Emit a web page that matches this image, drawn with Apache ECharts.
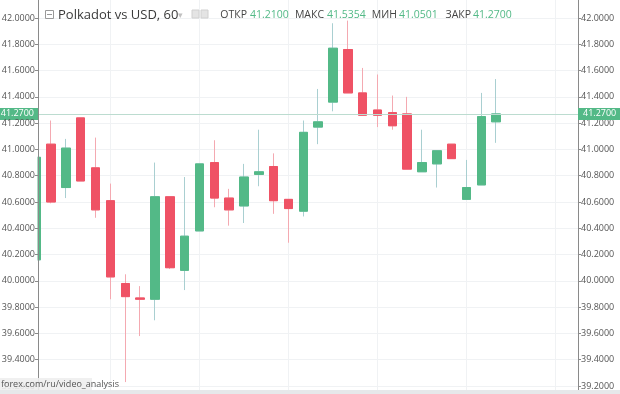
<!DOCTYPE html>
<html>
<head>
<meta charset="utf-8">
<script src="https://cdn.jsdelivr.net/npm/echarts@6/dist/echarts.min.js"></script>
<style>html,body{margin:0;padding:0;background:#fff;}#c{width:620px;height:394px;}</style>
</head>
<body>
<div id="c"></div>
<script>
// ---- data (hourly candles, Polkadot vs USD) ----
const candleIndex = [0,1,2,3,4,5,6,7,8,9,10,11,12,13,14,15,16,17,18,19,20,21,22,23,24,25,26,27,28,29,30,31];
const opens  = [40.16,41.04,40.71,41.24,40.86,40.61,39.98,39.87,39.86,40.64,40.08,40.38,40.90,40.63,40.57,40.81,40.87,40.62,40.53,41.17,41.36,41.76,41.43,41.30,41.28,41.27,40.83,40.89,41.04,40.62,40.73,41.21];
const closes = [40.94,40.60,41.01,40.76,40.54,40.03,39.88,39.86,40.64,40.10,40.34,40.89,40.63,40.54,40.79,40.83,40.61,40.55,41.13,41.21,41.77,41.43,41.26,41.26,41.18,40.85,40.90,40.99,40.93,40.71,41.25,41.27];
const lows   = [40.10,40.59,40.63,40.76,40.48,39.86,39.23,39.58,39.70,40.09,39.93,40.38,40.56,40.42,40.44,40.72,40.51,40.29,40.49,41.04,41.29,41.43,41.26,41.17,41.15,40.85,40.83,40.71,40.93,40.62,40.73,41.0501];
const highs  = [41.00,41.22,41.08,41.24,41.09,40.74,40.05,39.96,40.90,40.64,40.79,40.89,41.07,40.70,40.89,41.15,40.97,40.62,41.22,41.46,41.96,41.98,41.62,41.57,41.41,41.40,41.15,40.99,41.04,40.92,41.43,41.5354];
const vGridAt = [5,11,17,23,29,35];          // vertical grid lines (candle positions)
const lastPrice = 41.27;
const headerLabels = ['ОТКР','МАКС','МИН','ЗАКР'];
const titleText = 'Polkadot vs USD, 60';
const watermark = 'forex.com/ru/video_analysis';

const GREEN = '#53b987', RED = '#ef5265';
const WICK_G = '#a9cfd1', WICK_R = '#f4a9b1';

const wickData = candleIndex.map((x,i)=>[x, opens[i], closes[i], lows[i], highs[i]]);
const bodyData = candleIndex.map((x,i)=>[x, opens[i], closes[i], Math.min(opens[i],closes[i]), Math.max(opens[i],closes[i])]);

const last = candleIndex.length - 1;
const headerVals = [opens[last], highs[last], lows[last], closes[last]].map(v=>v.toFixed(4));

const chart = echarts.init(document.getElementById('c'), null, {renderer:'canvas'});
const FONT = '"Open Sans", sans-serif';
const axisLabel = {color:'#555', fontSize:9, fontFamily:FONT, margin:3, formatter:v=>v.toFixed(4)};

// [label right edge, value left edge]
const headerX = [[247,250],[324,327],[397,399],[471,473]];
const graphic = [
  // white panel left of the price scale (hides the partly scrolled-out first candle)
  {type:'rect', shape:{x:0,y:0,width:37.5,height:394}, style:{fill:'#ffffff'}, z:4},
  {type:'rect', shape:{x:45.5,y:10.5,width:8,height:8}, style:{fill:'none', stroke:'#999', lineWidth:1}, z:100},
  {type:'line', shape:{x1:47,y1:14.5,x2:52,y2:14.5}, style:{stroke:'#999', lineWidth:1}, z:100},
  {type:'text', x:58, y:15, style:{text:titleText, fill:'#3a3a3a', font:'13px '+FONT, verticalAlign:'middle'}, z:100},
  {type:'text', x:178, y:15, style:{text:'▾', fill:'#c0c0c0', font:'9px '+FONT, verticalAlign:'middle'}, z:100},
  {type:'rect', shape:{x:192,y:10,width:7,height:8}, style:{fill:'#e4e4e4', stroke:'#d0d0d0'}, z:100},
  {type:'rect', shape:{x:201,y:10,width:7,height:8}, style:{fill:'#e4e4e4', stroke:'#d0d0d0'}, z:100},
  {type:'rect', shape:{x:0,y:378,width:92,height:12}, style:{fill:'rgba(238,238,238,0.9)'}, z:100},
  {type:'text', x:1, y:384, style:{text:watermark, fill:'#555', font:'9px '+FONT, verticalAlign:'middle'}, z:101},
  {type:'rect', shape:{x:0,y:390,width:620,height:4}, style:{fill:'#e6e8ea'}, z:100}
];
headerLabels.forEach((lab,k)=>{
  graphic.push({type:'text', x:headerX[k][0], y:15, style:{text:lab, fill:'#444', font:'10.5px '+FONT, verticalAlign:'middle', align:'right'}, z:100});
  graphic.push({type:'text', x:headerX[k][1], y:15, style:{text:headerVals[k], fill:GREEN, font:'10.5px '+FONT, verticalAlign:'middle', align:'left'}, z:100});
});

const yAxisCommon = {
  type:'value', min:39.0, max:42.2, interval:0.2, scale:true,
  axisLine:{show:true, lineStyle:{color:'#8a8a8a', width:1}},
  axisTick:{show:true, length:3, lineStyle:{color:'#8a8a8a'}},
  axisLabel: axisLabel
};

chart.setOption({
  animation:false,
  backgroundColor:'#ffffff',
  grid:{left:38, right:42, top:-8.3, bottom:-18.3, containLabel:false, outerBoundsMode:'none'},
  xAxis:{type:'value', min:0.12, max:36.51, show:false, splitLine:{show:false}},
  yAxis:[
    Object.assign({}, yAxisCommon, {position:'left', z:10, splitLine:{show:false}}),
    Object.assign({}, yAxisCommon, {position:'right', z:0, splitLine:{show:true, lineStyle:{color:'#f0f2f4', width:1}}})
  ],
  graphic: graphic,
  series:[
    {
      type:'line', data:[], silent:true, clip:false, z:1,
      markLine:{
        silent:true, symbol:'none', animation:false, z:1,
        data: vGridAt.map(v=>({xAxis:v, lineStyle:{color:'#f0f2f4', width:1, type:'solid'}, label:{show:false}}))
      }
    },
    {
      type:'line', data:[], silent:true, clip:false, z:6,
      markLine:{
        silent:true, symbol:'none', animation:false, z:6,
        data: [
          {yAxis:lastPrice, lineStyle:{color:'#bcdcd0', width:1, type:'solid'},
           label:{show:true, position:'start', distance:0, formatter:()=>lastPrice.toFixed(4), color:'#fff', backgroundColor:GREEN, padding:[2,4,1,4], fontSize:9, fontFamily:FONT}},
          {yAxis:lastPrice, lineStyle:{color:'#bcdcd0', width:1, type:'solid'},
           label:{show:true, position:'end', distance:0, formatter:()=>lastPrice.toFixed(4), color:'#fff', backgroundColor:GREEN, padding:[2,6,1,5], fontSize:9, fontFamily:FONT}}
        ]
      }
    },
    {
      type:'candlestick', data:wickData, barWidth:9, z:2, clip:true,
      itemStyle:{color:'transparent', color0:'transparent', borderColor:WICK_G, borderColor0:WICK_R, borderColorDoji:WICK_R, borderWidth:1}
    },
    {
      type:'candlestick', data:bodyData, barWidth:9, z:3, clip:true,
      itemStyle:{color:GREEN, color0:RED, borderColor:GREEN, borderColor0:RED, borderColorDoji:RED, borderWidth:1}
    }
  ]
});
</script>
</body>
</html>
